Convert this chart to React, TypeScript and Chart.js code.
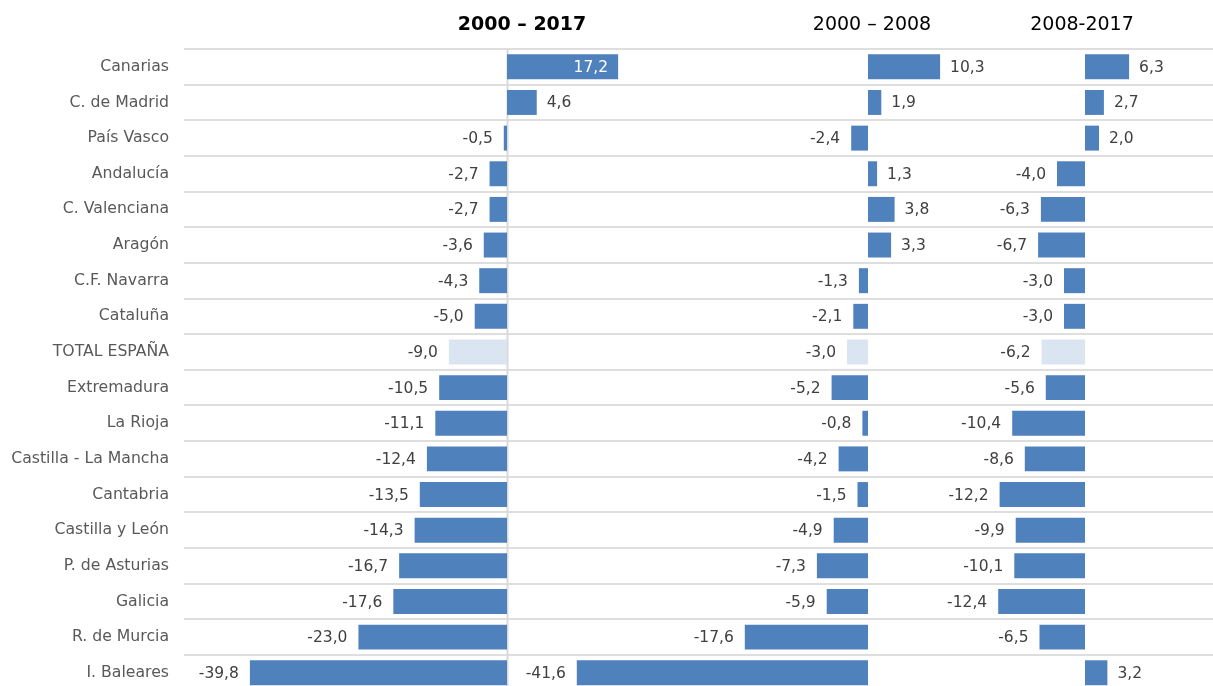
import React, { useEffect, useRef } from 'react';
import { Chart, registerables } from 'chart.js';

Chart.register(...registerables);

const regions = [
  'Canarias', 'C. de Madrid', 'País Vasco', 'Andalucía', 'C. Valenciana', 'Aragón',
  'C.F. Navarra', 'Cataluña', 'TOTAL ESPAÑA', 'Extremadura', 'La Rioja',
  'Castilla - La Mancha', 'Cantabria', 'Castilla y León', 'P. de Asturias',
  'Galicia', 'R. de Murcia', 'I. Baleares',
];

const change2000_2017 = [17.2, 4.6, -0.5, -2.7, -2.7, -3.6, -4.3, -5.0, -9.0, -10.5, -11.1, -12.4, -13.5, -14.3, -16.7, -17.6, -23.0, -39.8];
const change2000_2008 = [10.3, 1.9, -2.4, 1.3, 3.8, 3.3, -1.3, -2.1, -3.0, -5.2, -0.8, -4.2, -1.5, -4.9, -7.3, -5.9, -17.6, -41.6];
const change2008_2017 = [6.3, 2.7, 2.0, -4.0, -6.3, -6.7, -3.0, -3.0, -6.2, -5.6, -10.4, -8.6, -12.2, -9.9, -10.1, -12.4, -6.5, 3.2];

const panelTitles = ['2000 – 2017', '2000 – 2008', '2008-2017'];
const totalLabel = 'TOTAL ESPAÑA';

const FONT = "'DejaVu Sans', Verdana, sans-serif";

export default function App() {
  const ref = useRef<HTMLCanvasElement>(null);

  useEffect(() => {
    if (!ref.current) return;
    const colors = regions.map((r) => (r === totalLabel ? '#dbe5f1' : '#4f81bd'));
    const mk = (label: string, data: number[], axis: string) => ({
      label,
      data,
      xAxisID: axis,
      yAxisID: 'y',
      backgroundColor: colors,
      borderWidth: 0,
      grouped: false,
      categoryPercentage: 1,
      barPercentage: 0.7,
      clip: false as any,
    });

    const titleShift = [15, 4, -3];

    const overlay = {
      id: 'overlay',
      beforeDatasetsDraw(chart: any) {
        const { ctx, chartArea } = chart;
        const x = Math.round(chart.scales.x1.getPixelForValue(0)) + 0.5;
        ctx.save();
        ctx.strokeStyle = '#d9d9d9';
        ctx.lineWidth = 2;
        ctx.beginPath();
        ctx.moveTo(x, chartArea.top);
        ctx.lineTo(x, chartArea.bottom);
        ctx.stroke();
        ctx.restore();
      },
      afterDatasetsDraw(chart: any) {
        const { ctx } = chart;
        ctx.save();
        ctx.font = `15.5px ${FONT}`;
        ctx.textBaseline = 'middle';
        chart.data.datasets.forEach((ds: any, di: number) => {
          const meta = chart.getDatasetMeta(di);
          meta.data.forEach((el: any, i: number) => {
            const v = ds.data[i] as number;
            const txt = v.toFixed(1).replace('.', ',');
            const len = Math.abs(el.x - el.base);
            if (v >= 0) {
              if (len > 90) {
                ctx.fillStyle = '#ffffff';
                ctx.textAlign = 'right';
                ctx.fillText(txt, el.x - 10, el.y + 1);
              } else {
                ctx.fillStyle = '#404040';
                ctx.textAlign = 'left';
                ctx.fillText(txt, el.x + 10, el.y + 1);
              }
            } else {
              ctx.fillStyle = '#404040';
              ctx.textAlign = 'right';
              ctx.fillText(txt, el.x - 11, el.y + 1);
            }
          });
        });
        ['x1', 'x2', 'x3'].forEach((id, k) => {
          const sc = chart.scales[id];
          ctx.fillStyle = '#000000';
          ctx.textAlign = 'center';
          ctx.textBaseline = 'middle';
          ctx.font = `${k === 0 ? 'bold ' : ''}19px ${FONT}`;
          ctx.fillText(panelTitles[k], sc.getPixelForValue(0) + titleShift[k], 25);
        });
        ctx.restore();
      },
    };

    const chart = new Chart(ref.current, {
      type: 'bar',
      data: {
        labels: regions,
        datasets: [
          mk(panelTitles[0], change2000_2017, 'x1'),
          mk(panelTitles[1], change2000_2008, 'x2'),
          mk(panelTitles[2], change2008_2017, 'x3'),
        ] as any,
      },
      options: {
        indexAxis: 'y',
        animation: false,
        responsive: false,
        maintainAspectRatio: false,
        devicePixelRatio: 1,
        layout: { padding: { top: 49, left: 0, right: 0, bottom: 0 } },
        plugins: { legend: { display: false }, tooltip: { enabled: false }, title: { display: false } },
        scales: {
          y: {
            type: 'category',
            offset: true,
            afterFit: (s: any) => { s.width = 184; },
            grid: { offset: true, color: '#dedede', lineWidth: 2, drawTicks: false },
            border: { display: false },
            ticks: { padding: 15, color: '#595959', font: { family: FONT, size: 15.7 } },
          },
          x1: { type: 'linear', position: 'bottom', stack: 'panels', stackWeight: 334, min: -50, max: 1.7, display: false },
          x2: { type: 'linear', position: 'bottom', stack: 'panels', stackWeight: 455, min: -50, max: 15, display: false },
          x3: { type: 'linear', position: 'bottom', stack: 'panels', stackWeight: 240, min: -16, max: 128 / 7, display: false },
        } as any,
      },
      plugins: [overlay],
    });
    return () => chart.destroy();
  }, []);

  return (
    <div style={{ position: 'fixed', left: 0, top: 0, width: 1213, height: 686, overflow: 'hidden', background: '#fff' }}>
      <canvas ref={ref} width={1213} height={715} style={{ display: 'block', width: 1213, height: 715 }} />
    </div>
  );
}
